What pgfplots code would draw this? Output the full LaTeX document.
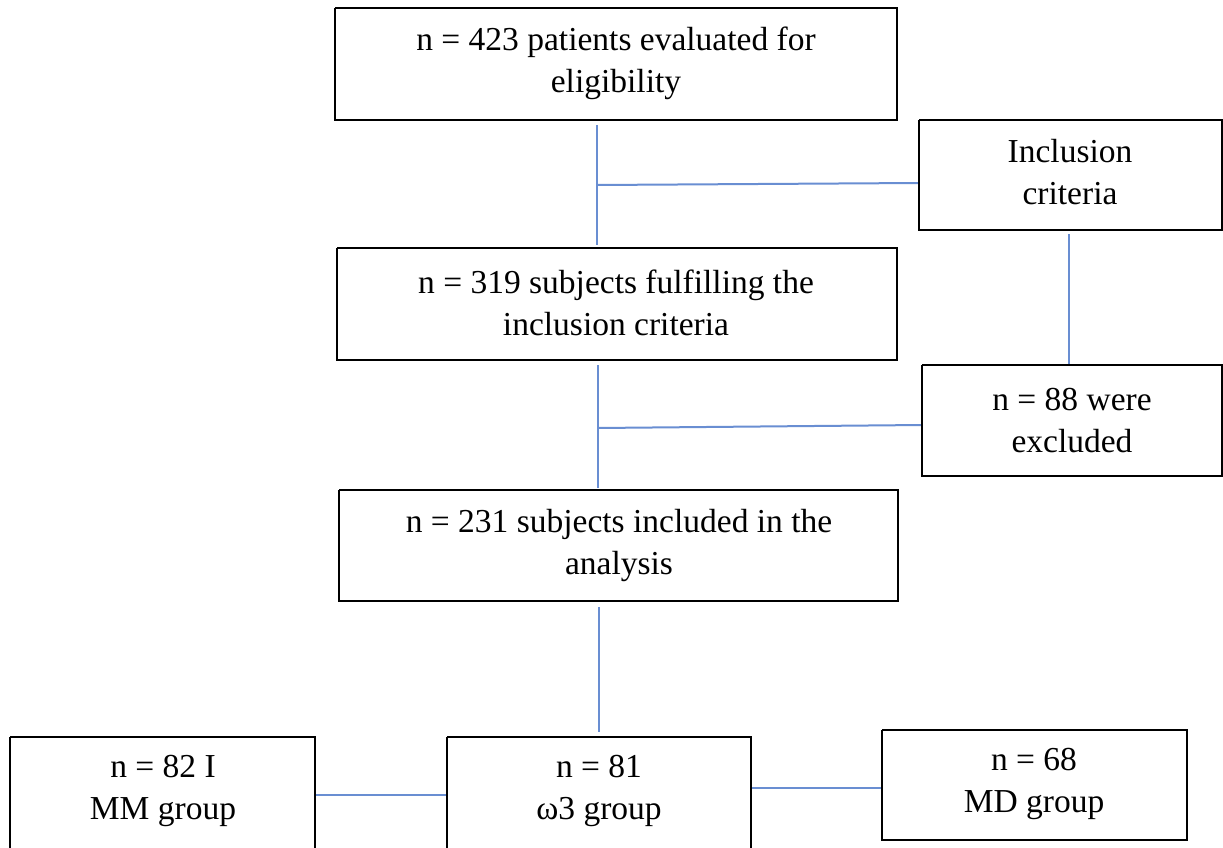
\documentclass[border=0pt]{standalone}
\usepackage{pgfplots}
\pgfplotsset{compat=1.18}
\usepackage{fontspec}
\setmainfont{Liberation Serif}
\definecolor{linkblue}{RGB}{105,142,210}
\begin{document}
\begin{tikzpicture}
\begin{axis}[
  scale only axis, width=1223pt, height=848pt,
  xmin=0, xmax=1223, ymin=0, ymax=848, y dir=reverse,
  hide axis, clip=false,
  every axis plot/.append style={mark=none},
]
% connector lines
\addplot[linkblue, line width=2pt] coordinates {(597,125) (597,245)};
\addplot[linkblue, line width=2pt] coordinates {(597,185) (919,183)};
\addplot[linkblue, line width=2pt] coordinates {(1069,234) (1069,365)};
\addplot[linkblue, line width=2pt] coordinates {(598,365) (598,488)};
\addplot[linkblue, line width=2pt] coordinates {(598,428) (922,425)};
\addplot[linkblue, line width=2pt] coordinates {(599,607) (599,732)};
\addplot[linkblue, line width=2pt] coordinates {(315,795) (447,795)};
\addplot[linkblue, line width=2pt] coordinates {(751,788) (882,788)};
% boxes
\addplot[black, line width=1.7pt] coordinates {(335,8) (897,8) (897,120) (335,120) (335,8)};
\addplot[black, line width=1.7pt] coordinates {(919,120) (1222,120) (1222,230) (919,230) (919,120)};
\addplot[black, line width=1.7pt] coordinates {(337,248) (897,248) (897,360) (337,360) (337,248)};
\addplot[black, line width=1.7pt] coordinates {(922,365) (1222,365) (1222,476) (922,476) (922,365)};
\addplot[black, line width=1.7pt] coordinates {(339,490) (898,490) (898,601) (339,601) (339,490)};
\addplot[black, line width=1.7pt] coordinates {(10,737) (315,737) (315,849) (10,849) (10,737)};
\addplot[black, line width=1.7pt] coordinates {(447,737) (751,737) (751,849) (447,849) (447,737)};
\addplot[black, line width=1.7pt] coordinates {(882,730) (1187,730) (1187,840) (882,840) (882,730)};
% texts
\tikzset{lab/.style={align=center, font=\fontsize{33.5}{42}\selectfont, inner sep=0pt}}
\node[lab] at (axis cs:616,63) {n = 423 patients evaluated for\\eligibility};
\node[lab] at (axis cs:1070,172) {Inclusion\\criteria};
\node[lab] at (axis cs:616,303) {n = 319 subjects fulfilling the\\inclusion criteria};
\node[lab] at (axis cs:1072,421) {n = 88 were\\excluded};
\node[lab] at (axis cs:619,545) {n = 231 subjects included in the\\analysis};
\node[lab] at (axis cs:163,791) {n = 82 I\\MM group};
\node[lab] at (axis cs:599,791) {n = 81\\ω3 group};
\node[lab] at (axis cs:1034,784) {n = 68\\MD group};
\end{axis}
\pgfresetboundingbox
\path (current axis.south west) rectangle (current axis.north east);
\end{tikzpicture}
\end{document}
